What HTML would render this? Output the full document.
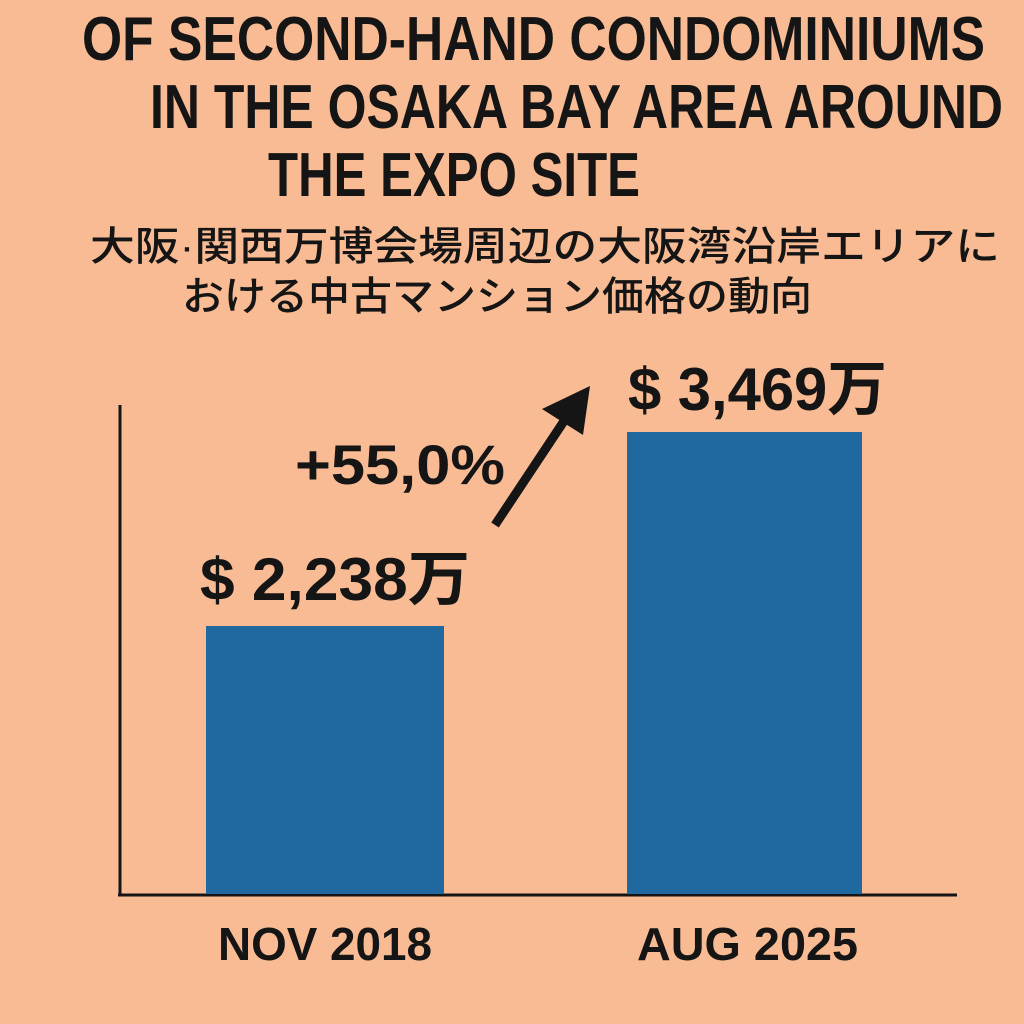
<!DOCTYPE html>
<html><head><meta charset="utf-8"><style>
html,body{margin:0;padding:0;background:#F8BB93;}
svg{display:block}
text{font-family:"Liberation Sans","Noto Sans CJK JP",sans-serif;fill:#151515;}
</style></head><body>
<svg width="1024" height="1024" viewBox="0 0 1024 1024" xmlns="http://www.w3.org/2000/svg">
<rect width="1024" height="1024" fill="#F8BB93"/>
<g font-weight="bold" font-size="62">
<text x="82" y="60" textLength="903" lengthAdjust="spacingAndGlyphs">OF SECOND-HAND CONDOMINIUMS</text>
<text x="150" y="128" textLength="853" lengthAdjust="spacingAndGlyphs">IN THE OSAKA BAY AREA AROUND</text>
<text x="268" y="196" textLength="372" lengthAdjust="spacingAndGlyphs">THE EXPO SITE</text>
</g>
<g font-weight="500" font-size="40">
<text x="90" y="260" textLength="910" lengthAdjust="spacingAndGlyphs">大阪·関西万博会場周辺の大阪湾沿岸エリアに</text>
<text x="182" y="310" textLength="630" lengthAdjust="spacingAndGlyphs">おける中古マンション価格の動向</text>
</g>
<line x1="120" y1="405" x2="120" y2="896" stroke="#151515" stroke-width="3"/>
<line x1="118" y1="895" x2="957" y2="895" stroke="#151515" stroke-width="3"/>
<rect x="206" y="626" width="238" height="268" fill="#1F69A0"/>
<rect x="627" y="432" width="235" height="462" fill="#1F69A0"/>
<g font-weight="bold">
<text x="200" y="600" font-size="60" textLength="270" lengthAdjust="spacingAndGlyphs">$ 2,238万</text>
<text x="628" y="410" font-size="60" textLength="259" lengthAdjust="spacingAndGlyphs">$ 3,469万</text>
<text x="295" y="484" font-size="56" textLength="210" lengthAdjust="spacingAndGlyphs">+55,0%</text>
<text x="218" y="960" font-size="46" textLength="214" lengthAdjust="spacingAndGlyphs">NOV 2018</text>
<text x="637" y="960" font-size="46" textLength="221" lengthAdjust="spacingAndGlyphs">AUG 2025</text>
</g>
<line x1="495" y1="525" x2="570" y2="412" stroke="#151515" stroke-width="9"/>
<polygon points="590,386 583,435 542,409" fill="#151515"/>
</svg>
</body></html>
